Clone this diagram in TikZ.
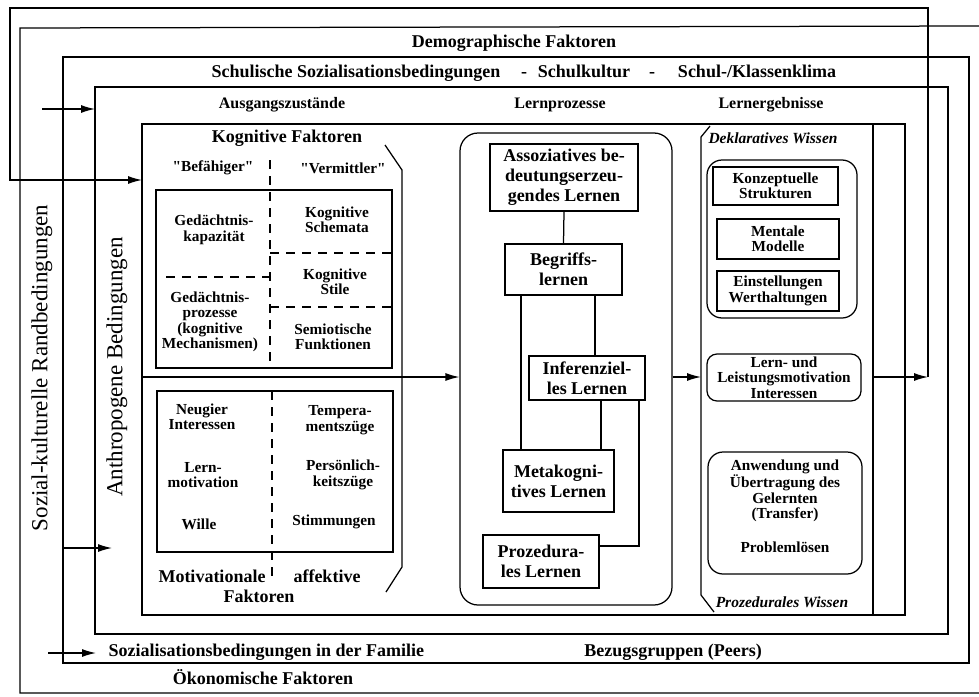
\documentclass[tikz,border=0pt]{standalone}
\usepackage{fontspec}
\setmainfont{Liberation Serif}
\newfontfamily\plainq[Ligatures=TeXOff]{Liberation Serif}
\newcommand{\sq}{{\plainq\bfseries"}}
\usetikzlibrary{arrows.meta}
\begin{document}
\begin{tikzpicture}[x=1pt,y=-1pt, line width=1.25pt,
  lbl/.style={font=\bfseries\fontsize{18}{20}\selectfont, inner sep=0, text height=13pt, text depth=4pt},
  hdr/.style={font=\bfseries\fontsize{16}{18}\selectfont, inner sep=0, text height=11.5pt, text depth=3.5pt},
  sm/.style={font=\bfseries\fontsize{15.3}{15.5}\selectfont, align=center, inner sep=0},
  smi/.style={font=\bfseries\itshape\fontsize{15.5}{16}\selectfont, inner sep=0},
  lpt/.style={font=\bfseries\fontsize{18}{20}\selectfont, align=center},
  box/.style={draw, rectangle, inner sep=1pt},
  rbox/.style={draw, rectangle, rounded corners=#1},
  rbox/.default=14pt,
  arr/.style={-{Latex[length=14pt,width=8pt]}},
  dsh/.style={dash pattern=on 9pt off 7pt},
  vlbl/.style={font=\fontsize{23}{25}\selectfont, rotate=90, inner sep=0}]
\useasboundingbox (0,0) rectangle (979,696);

% ---------- nested frames ----------
\draw (979,26) -- (20,28) -- (20,693) -- (979,693);
\draw (63,57) rectangle (969,663);
\draw (95,87) rectangle (948,634);
\draw (142,124) rectangle (905,615);

% ---------- frame labels ----------
\node[lbl] (demo) at (514,43) {Demographische Faktoren};
\node[lbl] (schul1) at (356,73) {Schulische Sozialisationsbedingungen};
\node[lbl] (dash1) at (524,73) {-};
\node[lbl] (schul2) at (584,73) {Schulkultur};
\node[lbl] (dash2) at (652,73) {-};
\node[lbl] (schul3) at (757,73) {Schul-/Klassenklima};
\node[hdr] (ausg) at (282,104) {Ausgangszustände};
\node[hdr] (lproz) at (560,104) {Lernprozesse};
\node[hdr] (lerg) at (771,104) {Lernergebnisse};
\node[lbl, anchor=west] (fam) at (108,652) {Sozialisationsbedingungen in der Familie};
\node[lbl] (peers) at (673,652) {Bezugsgruppen (Peers)};
\node[lbl] (oeko) at (263,680) {Ökonomische Faktoren};
\node[vlbl] (sozk) at (42,368) {Sozial-kulturelle Randbedingungen};
\node[vlbl] (anthro) at (117,367) {Anthropogene Bedingungen};

% ---------- left arrows ----------
\coordinate (a1s) at (42,109);  \coordinate (a1e) at (95,109);
\coordinate (a2s) at (63,548);  \coordinate (a2e) at (112,548);
\coordinate (a3s) at (48,653);  \coordinate (a3e) at (96,653);
\draw[arr] (a1s) -- (a1e);
\draw[arr] (a2s) -- (a2e);
\draw[arr] (a3s) -- (a3e);

% ---------- Ausgangszustaende column ----------
\draw (385,145) -- (402,170) -- (402,567) -- (386,592);
\node[lbl] (kogf) at (287,138) {Kognitive Faktoren};
\node[sm] (bef) at (213,168) {\sq Befähiger\sq};
\node[sm] (verm) at (343,168) {\sq Vermittler\sq};
\draw (156,190) rectangle (392,368);
\draw (157,391) rectangle (393,552);
\draw[dsh] (270,160) -- (270,362);
\draw[dsh] (166,277) -- (270,277);
\draw[dsh] (270,253) -- (392,253);
\draw[dsh] (270,307) -- (392,307);
\draw[dsh] (272,391) -- (272,583);
\node[sm] (gkap) at (214,230) {Gedächtnis-\\kapazität};
\node[sm] (ksch) at (337,220) {Kognitive\\Schemata};
\node[sm] (ksti) at (335,282) {Kognitive\\Stile};
\node[sm] (gpro) at (210,322) {Gedächtnis-\\prozesse\\(kognitive\\Mechanismen)};
\node[sm] (semi) at (333,337) {Semiotische\\Funktionen};
\node[sm] (neug) at (202,417) {Neugier\\Interessen};
\node[sm] (lmot) at (203,475) {Lern-\\motivation};
\node[sm] (will) at (199,524) {Wille};
\node[sm] (temp) at (340,420) {Tempera-\\mentszüge};
\node[sm] (pers) at (343,475) {Persönlich-\\keitszüge};
\node[sm] (stim) at (334,522) {Stimmungen};
\node[lbl] (motv) at (212,578) {Motivationale};
\node[lbl] (affk) at (327,578) {affektive};
\node[lbl] (faktm) at (259,598) {Faktoren};

% ---------- Lernprozesse ----------
\node[rbox=18pt, minimum width=212pt, minimum height=472pt] (lp) at (566,369) {};
\node[box, lpt, minimum width=148pt, minimum height=67pt] (assoz) at (564,177.5) {Assoziatives be-\\deutungserzeu-\\gendes Lernen};
\node[box, lpt, minimum width=117pt, minimum height=51pt] (begr) at (563.5,269.5) {Begriffs-\\lernen};
\node[box, lpt, minimum width=116pt, minimum height=44pt] (infer) at (587,378) {Inferenziel-\\les Lernen};
\node[box, lpt, minimum width=111pt, minimum height=62pt] (meta) at (558.5,481) {Metakogni-\\tives Lernen};
\node[box, lpt, minimum width=116pt, minimum height=53pt] (proz) at (541,561.5) {Prozedura-\\les Lernen};
\draw (assoz.south) -- (begr.north);
\draw (521,0 |- begr.south) -- (521,0 |- meta.north);
\draw (595,0 |- begr.south) -- (595,0 |- infer.north);
\draw (601,0 |- infer.south) -- (601,0 |- meta.north);
\draw (639,0 |- infer.south) |- (proz.east |- 0,546);

% ---------- Lernergebnisse ----------
\draw (710,126) -- (701,137) -- (701,595) -- (714,612);
\draw (873,124) -- (873,615);
\node[smi] (dekl) at (773,138) {Deklaratives Wissen};
\node[rbox=15pt, minimum width=150pt, minimum height=158pt] (decl) at (782,239) {};
\node[box, sm, minimum width=125pt, minimum height=38pt] (konz) at (775.5,186) {Konzeptuelle\\Strukturen};
\node[box, sm, minimum width=122pt, minimum height=40pt] (ment) at (778,239) {Mentale\\Modelle};
\node[box, sm, minimum width=122pt, minimum height=40pt] (einst) at (778,291) {Einstellungen\\Werthaltungen};
\node[rbox=10pt, sm, minimum width=154pt, minimum height=47pt] (lmi) at (784,377.5) {Lern- und\\Leistungsmotivation\\Interessen};
\node[rbox=15pt, minimum width=154pt, minimum height=122pt] (anw) at (785,513) {};
\node[sm] (anwt) at (785,506) {Anwendung und\\Übertragung des\\Gelernten\\(Transfer)\\[18pt]Problemlösen};
\node[smi] (prozw) at (782,602) {Prozedurales Wissen};

% ---------- flow arrows ----------
\coordinate (kOut) at (142,377);
\coordinate (eIn) at (701,377);
\coordinate (eOut) at (873,377);
\coordinate (fbJ) at (928,377);
\coordinate (kIn) at (142,180);
\draw[arr] (kOut) -- (kOut -| lp.west);
\draw[arr] (lp.east |- eIn) -- (eIn);
\draw[arr] (eOut) -- (fbJ);
\draw[arr] (fbJ) -- (928,8) -- (10,8) -- (10,180) -- (kIn);
\end{tikzpicture}
\end{document}
